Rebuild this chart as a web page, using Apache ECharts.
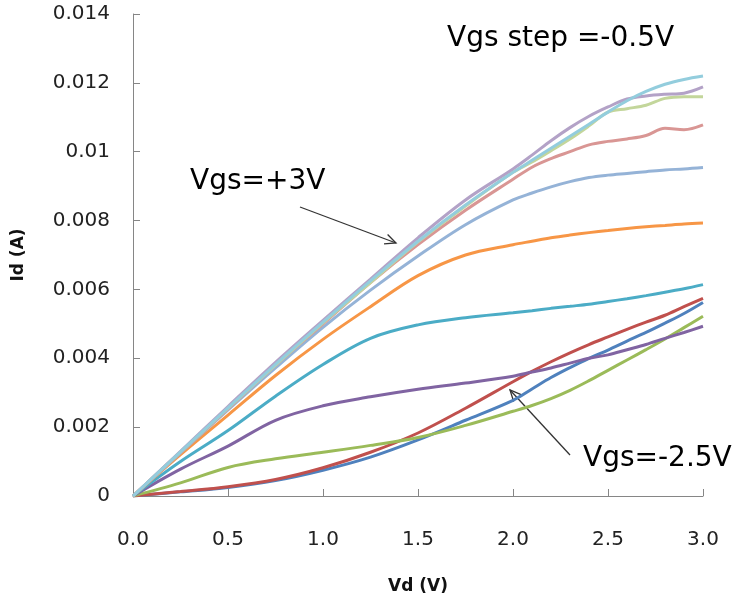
<!DOCTYPE html>
<html>
<head>
<meta charset="utf-8">
<script src="https://cdn.jsdelivr.net/npm/echarts@6/dist/echarts.min.js"></script>
<style>html,body{margin:0;padding:0;background:#fff;}#c{width:735px;height:600px;}</style>
</head>
<body>
<div id="c"></div>
<script>
// Drain voltage (V) sample points
const vd = [0, 0.25, 0.5, 0.75, 1.0, 1.25, 1.5, 1.75, 2.0, 2.1, 2.2, 2.3, 2.4, 2.5, 2.6, 2.7, 2.8, 2.9, 3.0];

// Drain current (A) for each curve
const idBlue     = [0, 0.00012, 0.00025, 0.00045, 0.00075, 0.00113, 0.00163, 0.0022, 0.00278, 0.00311, 0.00344, 0.00373, 0.004, 0.00424, 0.0045, 0.00475, 0.00502, 0.0053, 0.00562];
const idRed      = [0, 0.00013, 0.00027, 0.00048, 0.00082, 0.00127, 0.00183, 0.00255, 0.00332, 0.00362, 0.0039, 0.00416, 0.0044, 0.00462, 0.00484, 0.00505, 0.00525, 0.0055, 0.00574];
const idGreen    = [0, 0.00038, 0.00083, 0.00108, 0.00127, 0.00147, 0.0017, 0.00205, 0.00246, 0.00263, 0.00283, 0.00307, 0.00335, 0.00365, 0.00395, 0.00425, 0.00456, 0.00489, 0.00522];
const idPurple   = [0, 0.00078, 0.00145, 0.0022, 0.00262, 0.00288, 0.0031, 0.00328, 0.00348, 0.0036, 0.00372, 0.00386, 0.004, 0.0041, 0.00425, 0.0044, 0.00458, 0.00475, 0.00493];
const idTeal     = [0, 0.001, 0.0019, 0.0029, 0.00382, 0.00458, 0.00497, 0.00518, 0.00532, 0.00538, 0.00545, 0.00551, 0.00557, 0.00565, 0.00573, 0.00582, 0.00592, 0.00602, 0.00614];
const idOrange   = [0, 0.0012, 0.00235, 0.0035, 0.00455, 0.0055, 0.0064, 0.007, 0.0073, 0.0074, 0.0075, 0.00758, 0.00765, 0.00771, 0.00777, 0.00782, 0.00786, 0.0079, 0.00793];
const idLtBlue   = [0, 0.00125, 0.0025, 0.00372, 0.0049, 0.00598, 0.00697, 0.00788, 0.0086, 0.0088, 0.00898, 0.00913, 0.00925, 0.00932, 0.00937, 0.00942, 0.00947, 0.0095, 0.00954];
const idLtRed    = [0, 0.00127, 0.00253, 0.0038, 0.005, 0.0062, 0.0073, 0.0083, 0.0092, 0.00955, 0.0098, 0.01, 0.0102, 0.0103, 0.01037, 0.01047, 0.01068, 0.01064, 0.01078];
const idLtGreen  = [0, 0.00128, 0.00255, 0.0038, 0.00503, 0.0062, 0.00738, 0.00842, 0.0094, 0.0097, 0.01003, 0.01037, 0.01075, 0.01115, 0.01125, 0.01135, 0.01155, 0.0116, 0.0116];
const idLtPurple = [0, 0.0013, 0.0026, 0.00388, 0.0051, 0.0063, 0.0075, 0.0086, 0.0095, 0.0099, 0.01032, 0.0107, 0.01103, 0.0113, 0.01153, 0.01162, 0.01167, 0.0117, 0.01188];
const idLtTeal   = [0, 0.00128, 0.00256, 0.00382, 0.00505, 0.00625, 0.0074, 0.00845, 0.0094, 0.00975, 0.0101, 0.01045, 0.0108, 0.01115, 0.01148, 0.01175, 0.01196, 0.0121, 0.0122];

const seriesValues = [idBlue, idRed, idGreen, idPurple, idTeal, idOrange, idLtBlue, idLtRed, idLtGreen, idLtPurple, idLtTeal];
const seriesNames = ['S1', 'S2', 'S3', 'S4', 'S5', 'S6', 'S7', 'S8', 'S9', 'S10', 'S11'];
const colors = ['#4F81BD', '#C0504D', '#9BBB59', '#8064A2', '#4BACC6', '#F79646', '#95B3D7', '#D99694', '#C3D69B', '#B3A2C7', '#93CDDD'];

const xTicks = { min: 0, max: 3, interval: 0.5 };
const yTicks = { min: 0, max: 0.014, interval: 0.002 };

const chart = echarts.init(document.getElementById('c'));

function arrow(x1, y1, x2, y2) {
  const dx = x2 - x1, dy = y2 - y1, L = Math.hypot(dx, dy);
  const ux = dx / L, uy = dy / L, h = 12, a = 25 * Math.PI / 180;
  const c = Math.cos(a), s = Math.sin(a);
  const r1 = [ux * c - uy * s, ux * s + uy * c];
  const r2 = [ux * c + uy * s, -ux * s + uy * c];
  const st = { stroke: '#333', lineWidth: 1.3, fill: null };
  return [
    { type: 'line', shape: { x1, y1, x2, y2 }, style: st },
    { type: 'polyline', shape: { points: [[x2 - h * r1[0], y2 - h * r1[1]], [x2, y2], [x2 - h * r2[0], y2 - h * r2[1]]] }, style: st }
  ];
}

const font = '"DejaVu Sans", "Noto Sans", sans-serif';
const axisCommon = {
  axisLine: { show: true, lineStyle: { color: '#868686', width: 1 } },
  axisTick: { show: true, inside: true, length: 7, lineStyle: { color: '#868686' } },
  splitLine: { show: false },
  nameTextStyle: { fontFamily: font, fontSize: 17, fontWeight: 'bold', color: '#111' }
};

chart.setOption({
  animation: false,
  backgroundColor: '#fff',
  grid: { left: 133, right: 32, top: 14, bottom: 103 },
  xAxis: Object.assign({
    type: 'value', min: xTicks.min, max: xTicks.max, interval: xTicks.interval,
    name: 'Vd (V)', nameLocation: 'middle', nameGap: 82,
    axisLabel: { margin: 34, fontFamily: font, fontSize: 20, color: '#222', formatter: v => v.toFixed(1) }
  }, axisCommon),
  yAxis: Object.assign({
    type: 'value', min: yTicks.min, max: yTicks.max, interval: yTicks.interval,
    name: 'Id (A)', nameLocation: 'middle', nameGap: 106,
    axisLabel: { margin: 23, fontFamily: font, fontSize: 20, color: '#222', formatter: v => String(parseFloat(v.toFixed(4))) }
  }, axisCommon),
  series: seriesValues.map((vals, i) => ({
    name: seriesNames[i],
    type: 'line',
    smooth: 0.35,
    symbol: 'none',
    lineStyle: { width: 3, color: colors[i] },
    z: 2 + i,
    data: vd.map((x, k) => [x, vals[k]])
  })),
  graphic: [
    { type: 'text', left: 447, top: 25, style: { text: 'Vgs step =-0.5V', fontFamily: font, fontSize: 28, fill: '#000' } },
    { type: 'text', left: 190, top: 168, style: { text: 'Vgs=+3V', fontFamily: font, fontSize: 28, fill: '#000' } },
    { type: 'text', left: 583, top: 445, style: { text: 'Vgs=-2.5V', fontFamily: font, fontSize: 28, fill: '#000' } },
    ...arrow(300, 207, 396, 243),
    ...arrow(570, 455, 510, 390)
  ]
});
</script>
</body>
</html>
